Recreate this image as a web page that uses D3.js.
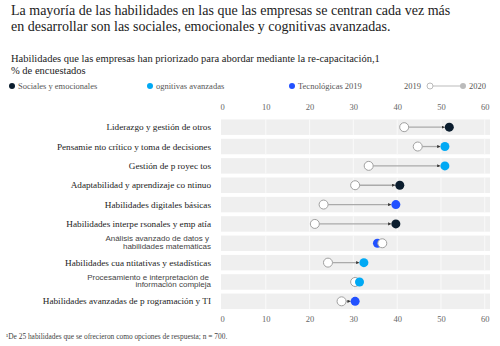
<!DOCTYPE html>
<html>
<head>
<meta charset="utf-8">
<script src="https://cdn.jsdelivr.net/npm/d3@7"></script>
<style>
  body { margin: 0; background: #fff; }
  svg { display: block; }
</style>
</head>
<body>
<svg id="chart" width="500" height="346"></svg>
<script>
// Data
const skills = [
    "Liderazgo y gestión de otros",
    "Pensamie nto crítico y toma de decisiones",
    "Gestión de p royec tos",
    "Adaptabilidad y aprendizaje co ntinuo",
    "Habilidades digitales básicas",
    "Habilidades interpe rsonales  y emp atía",
    "Análisis avanzado de datos y|habilidades matemáticas",
    "Habilidades cua ntitativas y estadísticas",
    "Procesamiento e interpretación de|información compleja",
    "Habilidades  avanzadas de p rogramación y TI"
]
const values2019 = [41.6, 44.7, 33.5, 30.4, 23.2, 21.2, 36.6, 24.2, 30.4, 27.3]
const values2020 = [51.9, 50.9, 50.9, 40.6, 39.7, 39.7, 35.5, 32.4, 31.4, 30.4]
const groups = ["soc", "cog", "cog", "soc", "tec", "soc", "tec", "cog", "cog", "tec"]
const xTicks = [0, 10, 20, 30, 40, 50, 60]

const groupColor = { soc: "#0b1d2e", cog: "#00a9f4", tec: "#2251ff" }
const serif = "'Liberation Serif', 'Times New Roman', serif"
const sans = "'Liberation Sans', Arial, sans-serif"

const rows = skills.map((s, i) => ({
    label: s, v19: values2019[i], v20: values2020[i], g: groups[i]
}))

const svg = d3.select('#chart')

// Title + subtitle
const title = svg.append('text')
    .attr('font-family', serif)
    .attr('font-size', 14)
    .attr('fill', '#222')
title.append('tspan').attr('x', 11).attr('y', 15)
    .text('La mayoría de las habilidades en las que las empresas se centran cada vez más')
title.append('tspan').attr('x', 11).attr('y', 31)
    .text('en desarrollar son las sociales, emocionales y cognitivas avanzadas.')

const sub = svg.append('text')
    .attr('font-family', serif)
    .attr('font-size', 10.5)
    .attr('fill', '#222')
sub.append('tspan').attr('x', 11).attr('y', 62)
    .text('Habilidades que las empresas han priorizado para abordar mediante la re-capacitación,1')
sub.append('tspan').attr('x', 11).attr('y', 74)
    .text('% de encuestados')

// Legend
const legend = svg.append('g')
    .attr('font-family', serif)
    .attr('font-size', 8.5)
    .attr('fill', '#555')
const legendItems = [
    { x: 12, color: groupColor.soc, text: 'Sociales  y emocionales' },
    { x: 150, color: groupColor.cog, text: 'ognitivas avanzadas' },
    { x: 292, color: groupColor.tec, text: 'Tecnológicas 2019' }
]
legendItems.forEach(d => {
    legend.append('circle').attr('cx', d.x).attr('cy', 86).attr('r', 3).attr('fill', d.color)
    legend.append('text').attr('x', d.x + 6).attr('y', 89).text(d.text)
})
legend.append('text').attr('x', 404).attr('y', 89).text('2019')
legend.append('line').attr('x1', 430).attr('x2', 463).attr('y1', 86).attr('y2', 86)
    .attr('stroke', '#bbb').attr('stroke-width', 1)
legend.append('circle').attr('cx', 430).attr('cy', 86).attr('r', 3)
    .attr('fill', '#fff').attr('stroke', '#bbb')
legend.append('circle').attr('cx', 463).attr('cy', 86).attr('r', 3).attr('fill', '#bbb')
legend.append('text').attr('x', 469).attr('y', 89).text('2020')

// Scales
const x = d3.scaleLinear().domain([0, 61.2]).range([222, 490])
const y = d3.scaleBand().domain(d3.range(rows.length)).range([117.5, 311]).paddingInner(0.2).paddingOuter(0.1)

// Bands
svg.append('g').selectAll('rect')
    .data(rows)
    .enter()
    .append('rect')
    .attr('x', x(0) - 1)
    .attr('y', (d, i) => y(i))
    .attr('width', x(61.2) - x(0) + 1)
    .attr('height', y.bandwidth())
    .attr('fill', '#efefef')

// white grid lines inside bands
rows.forEach((d, i) => {
    svg.append('g').selectAll('line')
        .data(xTicks.slice(1))
        .enter()
        .append('line')
        .attr('x1', t => x(t)).attr('x2', t => x(t))
        .attr('y1', y(i)).attr('y2', y(i) + y.bandwidth())
        .attr('stroke', '#fafafa')
        .attr('stroke-width', 1)
})

// Axes
const xAxisTop = d3.axisTop(x).tickValues(xTicks).tickSize(0).tickPadding(0)
const xAxisBottom = d3.axisBottom(x).tickValues(xTicks).tickSize(0).tickPadding(0)

const gTop = svg.append('g').attr('transform', 'translate(0,110)').call(xAxisTop)
const gBot = svg.append('g').attr('transform', 'translate(0,316)').call(xAxisBottom)
;[gTop, gBot].forEach(g => {
    g.select('.domain').remove()
    g.selectAll('text')
        .attr('font-family', serif)
        .attr('font-size', 8.5)
        .attr('fill', '#666')
})
gTop.selectAll('text').attr('dy', '0')
gBot.selectAll('text').attr('dy', '0.71em')

// Row labels
const labels = svg.append('g')
rows.forEach((d, i) => {
    const cy = y(i) + y.bandwidth() / 2
    const parts = d.label.split('|')
    if (parts.length > 1) {
        const t = labels.append('text')
            .attr('text-anchor', 'end')
            .attr('font-family', sans)
            .attr('font-size', 8)
            .attr('fill', '#444')
        t.append('tspan').attr('x', 209).attr('y', cy - 2.3).text(parts[0])
        t.append('tspan').attr('x', 211).attr('y', cy + 5.3).text(parts[1])
    } else {
        labels.append('text')
            .attr('x', 211)
            .attr('y', cy + 3)
            .attr('text-anchor', 'end')
            .attr('font-family', serif)
            .attr('font-size', 9.2)
            .attr('fill', '#222')
            .text(parts[0])
    }
})

// Arrow marker
svg.append('defs').append('marker')
    .attr('id', 'arrow')
    .attr('viewBox', '0 0 6 6')
    .attr('refX', 6).attr('refY', 3)
    .attr('markerWidth', 3.2).attr('markerHeight', 3.2)
    .attr('markerUnits', 'userSpaceOnUse')
    .attr('orient', 'auto')
    .append('path')
    .attr('d', 'M0,0 L6,3 L0,6 Z')
    .attr('fill', '#333')

const r = 4.5
const marks = svg.append('g')

// connecting lines (only where 2020 > 2019)
marks.selectAll('line.conn')
    .data(rows.filter(d => d.v20 - d.v19 > 2))
    .enter()
    .append('line')
    .attr('class', 'conn')
    .attr('x1', d => x(d.v19) + r)
    .attr('x2', d => x(d.v20) - r)
    .attr('y1', d => y(rows.indexOf(d)) + y.bandwidth() / 2)
    .attr('y2', d => y(rows.indexOf(d)) + y.bandwidth() / 2)
    .attr('stroke', '#aaa')
    .attr('stroke-width', 1.3)
    .attr('marker-end', 'url(#arrow)')

// 2019 open circles
const c19 = marks.selectAll('circle.y19')
    .data(rows)
    .enter()
    .append('circle')
    .attr('class', 'y19')
    .attr('cx', d => x(d.v19))
    .attr('cy', (d, i) => y(i) + y.bandwidth() / 2)
    .attr('r', r)
    .attr('fill', '#fff')
    .attr('stroke', '#a0a0a0')
    .attr('stroke-width', 1)

// 2020 filled circles
marks.selectAll('circle.y20')
    .data(rows)
    .enter()
    .append('circle')
    .attr('class', 'y20')
    .attr('cx', d => x(d.v20))
    .attr('cy', (d, i) => y(i) + y.bandwidth() / 2)
    .attr('r', r)
    .attr('fill', d => groupColor[d.g])

// where 2019 is higher, draw the open circle on top
c19.filter(d => d.v19 > d.v20).raise()

// Footnote
svg.append('text')
    .attr('x', 6)
    .attr('y', 339)
    .attr('font-family', serif)
    .attr('font-size', 7.4)
    .attr('fill', '#444')
    .text('¹De 25 habilidades que se ofrecieron como opciones de respuesta; n = 700.')
</script>
</body>
</html>
